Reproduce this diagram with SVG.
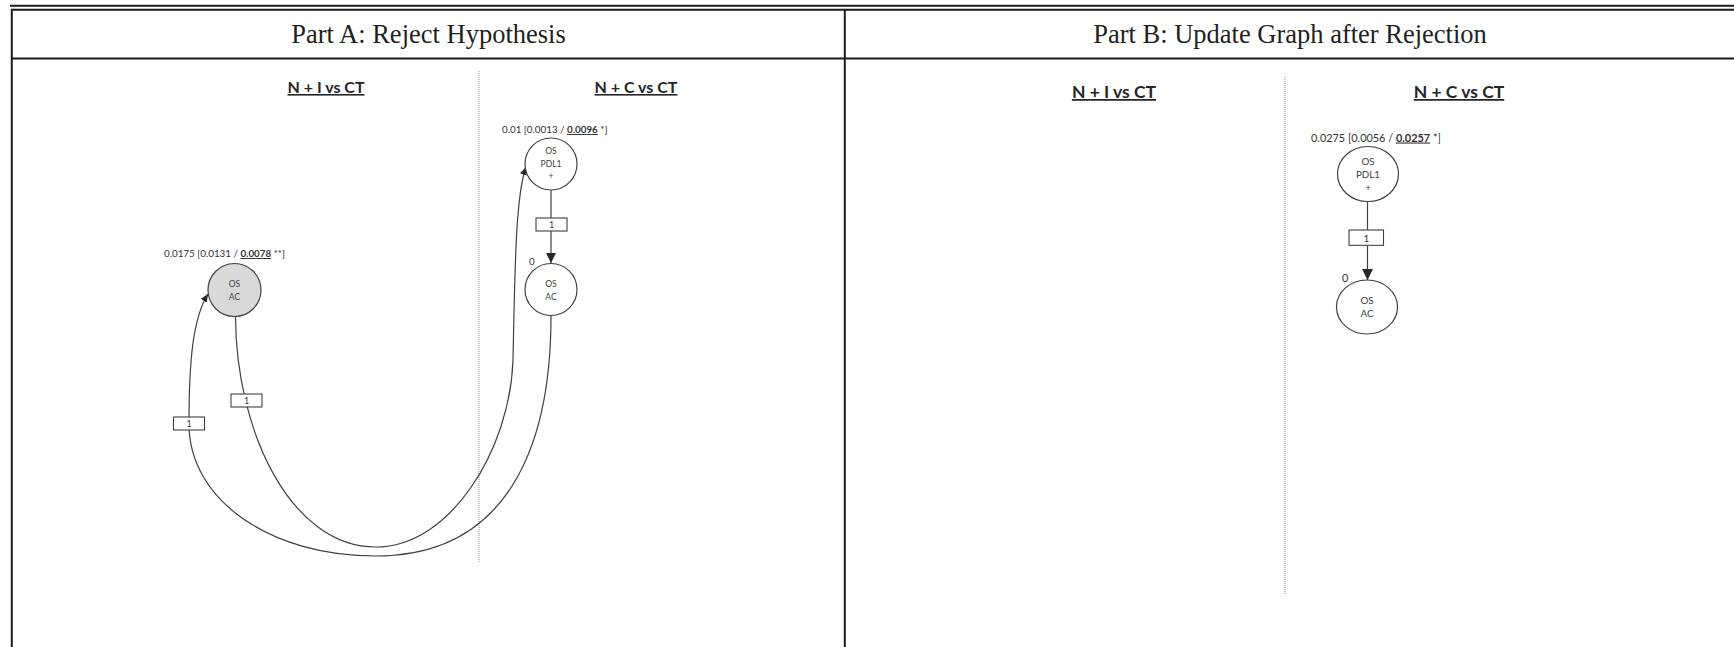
<svg xmlns="http://www.w3.org/2000/svg" width="1734" height="647" viewBox="0 0 1734 647">
  <style>
    .frame { stroke: #1c1a1b; stroke-width: 2; fill: none; }
    .title { font-family: "Liberation Serif", "Times New Roman", serif; font-size: 26.5px; fill: #231f20; text-anchor: middle; }
    .head { font-family: Lato, "Liberation Sans", sans-serif; font-weight: bold; fill: #262626; text-anchor: middle; text-decoration: underline; }
    .split { stroke: #8c8c8c; stroke-width: 1; stroke-dasharray: 1 1; fill: none; }
    .node { fill: #ffffff; stroke: #404040; stroke-width: 1.2; }
    .node.sel { fill: #d9d9d9; }
    .ntxt { font-family: Lato, "Liberation Sans", sans-serif; fill: #404040; text-anchor: middle; }
    .lbl { font-family: Lato, "Liberation Sans", sans-serif; fill: #333333; }
    .lbl .p { font-weight: bold; text-decoration: underline; }
    .edge { fill: none; stroke: #404040; stroke-width: 1.2; }
    .wbox { fill: #ffffff; stroke: #404040; stroke-width: 1.1; }
    .wtxt { font-family: Lato, "Liberation Sans", sans-serif; fill: #404040; text-anchor: middle; }
  </style>
  <defs>
    <marker id="headS" markerUnits="userSpaceOnUse" markerWidth="12" markerHeight="12" refX="10" refY="5" orient="auto">
      <path d="M0,0 L10,5 L0,10 z" fill="#262626"/>
    </marker>
    <marker id="headL" markerUnits="userSpaceOnUse" markerWidth="13" markerHeight="13" refX="11" refY="5.5" orient="auto">
      <path d="M0,0 L11,5.5 L0,11 z" fill="#262626"/>
    </marker>
    <marker id="headC" markerUnits="userSpaceOnUse" markerWidth="10" markerHeight="10" refX="8" refY="3.5" orient="auto">
      <path d="M0,0 L8,3.5 L0,7 z" fill="#262626"/>
    </marker>
  </defs>

  <rect width="1734" height="647" fill="#ffffff"/>

  <!-- table frame -->
  <g id="frame">
    <line class="frame" x1="10" y1="5.8" x2="1734" y2="5.8"/>
    <line class="frame" x1="11" y1="9.8" x2="1734" y2="9.8"/>
    <line class="frame" x1="11.8" y1="9" x2="11.8" y2="647"/>
    <line class="frame" x1="844.8" y1="9" x2="844.8" y2="647"/>
    <line class="frame" x1="11" y1="58.5" x2="1734" y2="58.5"/>
    <text class="title" x="428.5" y="42.5">Part A: Reject Hypothesis</text>
    <text class="title" x="1290" y="42.5">Part B: Update Graph after Rejection</text>
  </g>

  <!-- panel A: comparison headings and separator -->
  <g id="panelA">
    <text class="head" x="326" y="93" font-size="16">N + I vs CT</text>
    <text class="head" x="636" y="93" font-size="16">N + C vs CT</text>
    <line class="split" x1="479" y1="71" x2="479" y2="562"/>
  </g>

  <!-- panel B: comparison headings and separator -->
  <g id="panelB">
    <text class="head" x="1114" y="98" font-size="17.5">N + I vs CT</text>
    <text class="head" x="1459" y="98" font-size="17.5">N + C vs CT</text>
    <line class="split" x1="1285" y1="77" x2="1285" y2="594"/>
  </g>

  <!-- connectors -->
  <g id="connectors">
    <!-- panel A: PDL1+ to AC -->
    <path class="edge" d="M551,190 L551,263" marker-end="url(#headS)"/>
    <rect class="wbox" x="536" y="218" width="31" height="13"/>
    <text class="wtxt" x="551.5" y="228" font-size="9">1</text>

    <!-- panel A: AC (N+I) to PDL1+ (N+C) -->
    <path class="edge" d="M235.5,317 C236,430 290,547 376,547 C450,547 510,450 513,360 C515,260 516,195 526,167" marker-end="url(#headC)"/>
    <rect class="wbox" x="231" y="394" width="31" height="13"/>
    <text class="wtxt" x="246.5" y="404" font-size="9">1</text>

    <!-- panel A: AC (N+C) to AC (N+I) -->
    <path class="edge" d="M551,316 C551,450 505,556 376,556 C270,556 189,500 189,424 C189,360 193,318 208,294" marker-end="url(#headC)"/>
    <rect class="wbox" x="173.5" y="417" width="31" height="13"/>
    <text class="wtxt" x="189" y="427" font-size="9">1</text>

    <!-- panel B: PDL1+ to AC -->
    <path class="edge" d="M1367.5,201.5 L1367.5,280" marker-end="url(#headL)"/>
    <rect class="wbox" x="1349" y="230" width="34.5" height="15.3"/>
    <text class="wtxt" x="1366.5" y="241.5" font-size="10">1</text>
  </g>

  <!-- panel A nodes -->
  <g id="nodeA-ni-ac">
    <text class="lbl" x="164" y="257" font-size="9.8">0.0175 [0.0131 / <tspan class="p">0.0078</tspan> **]</text>
    <circle class="node sel" cx="234.5" cy="290" r="26.5"/>
    <text class="ntxt" x="234.5" y="287" font-size="8.5">OS</text>
    <text class="ntxt" x="234.5" y="300" font-size="8.5">AC</text>
  </g>

  <g id="nodeA-nc-pdl1">
    <text class="lbl" x="502" y="133" font-size="9.8">0.01 [0.0013 / <tspan class="p">0.0096</tspan> *]</text>
    <circle class="node" cx="551" cy="164" r="26"/>
    <text class="ntxt" x="551" y="154" font-size="8.5">OS</text>
    <text class="ntxt" x="551" y="166.5" font-size="8.5">PDL1</text>
    <text class="ntxt" x="551" y="179" font-size="8.5">+</text>
  </g>

  <g id="nodeA-nc-ac">
    <text class="lbl" x="529" y="265" font-size="9.8">0</text>
    <circle class="node" cx="551" cy="289.5" r="26"/>
    <text class="ntxt" x="551" y="286.5" font-size="8.5">OS</text>
    <text class="ntxt" x="551" y="299.5" font-size="8.5">AC</text>
  </g>

  <!-- panel B nodes -->
  <g id="nodeB-nc-pdl1">
    <text class="lbl" x="1311" y="141.5" font-size="10.9">0.0275 [0.0056 / <tspan class="p">0.0257</tspan> *]</text>
    <ellipse class="node" cx="1368" cy="174" rx="30.5" ry="27.5"/>
    <text class="ntxt" x="1368" y="164.5" font-size="9.8">OS</text>
    <text class="ntxt" x="1368" y="177.5" font-size="9.8">PDL1</text>
    <text class="ntxt" x="1368" y="190.5" font-size="9.8">+</text>
  </g>

  <g id="nodeB-nc-ac">
    <text class="lbl" x="1342" y="282" font-size="10.9">0</text>
    <ellipse class="node" cx="1367" cy="307" rx="30.5" ry="27"/>
    <text class="ntxt" x="1367" y="303.5" font-size="9.8">OS</text>
    <text class="ntxt" x="1367" y="317" font-size="9.8">AC</text>
  </g>
</svg>
